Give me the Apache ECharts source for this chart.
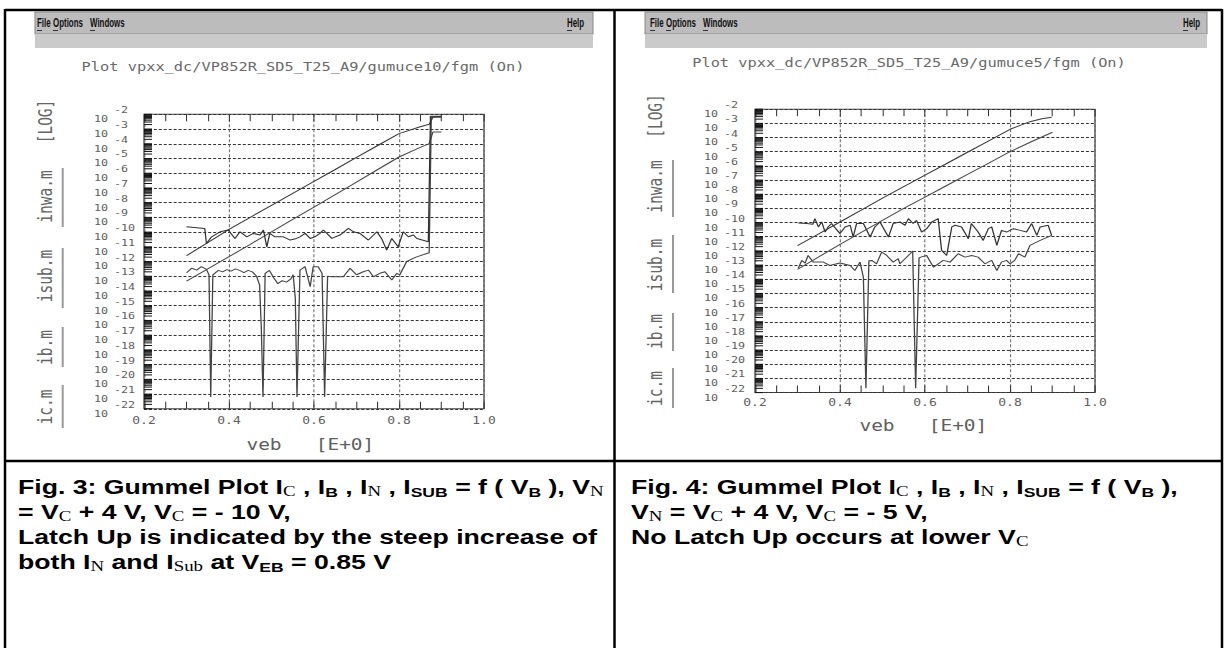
<!DOCTYPE html>
<html><head><meta charset="utf-8">
<script src="https://cdn.jsdelivr.net/npm/echarts@6/dist/echarts.min.js"></script>
<style>
html,body{margin:0;padding:0;background:#fff;overflow:hidden}
#wrap{width:1227px;height:648px;overflow:hidden}
#c{width:944px;height:648px;transform:scaleX(1.29979);transform-origin:0 0}
</style>
</head><body><div id="wrap"><div id="c"></div></div>
<script>
// ---------- tick labels ----------
const xTickLabels = ['0.2', '0.4', '0.6', '0.8', '1.0'];
const yDecades = [-22, -21, -20, -19, -18, -17, -16, -15, -14, -13, -12, -11, -10, -9, -8, -7, -6, -5, -4, -3, -2];
const seriesNames = ['ic.m', 'ib.m', 'isub.m', 'inwa.m'];

// ---------- Fig. 3 (V_C = -10 V): [veb, log10(I)] ----------
const ic3 = [[0.30,-11.6],[0.35,-10.72],[0.40,-9.82],[0.45,-9.0],[0.50,-8.18],[0.55,-7.37],[0.60,-6.56],[0.65,-5.75],[0.70,-4.93],[0.75,-4.12],[0.80,-3.31],[0.85,-2.85],[0.871,-2.68],[0.88,-2.18],[0.89,-2.15],[0.90,-2.15]];
const ib3 = [[0.30,-13.33],[0.35,-12.5],[0.40,-11.67],[0.45,-10.83],[0.50,-9.98],[0.55,-9.13],[0.60,-8.3],[0.65,-7.45],[0.70,-6.6],[0.75,-5.75],[0.80,-4.9],[0.85,-4.25],[0.871,-3.99],[0.88,-3.2],[0.90,-3.2]];
const inwa3 = [[0.300,-9.64],[0.343,-9.75],[0.347,-10.77],[0.359,-10.32],[0.379,-9.98],[0.398,-9.86],[0.414,-10.43],[0.426,-9.98],[0.442,-10.32],[0.457,-10.09],[0.473,-10.2],[0.481,-9.86],[0.489,-11.0],[0.496,-10.09],[0.508,-10.32],[0.528,-10.32],[0.544,-10.54],[0.559,-10.43],[0.567,-10.32],[0.579,-10.09],[0.591,-10.43],[0.602,-10.32],[0.614,-10.09],[0.622,-9.86],[0.642,-10.43],[0.661,-10.2],[0.681,-9.75],[0.693,-9.98],[0.708,-10.09],[0.728,-10.54],[0.748,-9.98],[0.759,-10.43],[0.771,-11.22],[0.783,-10.43],[0.798,-11.0],[0.810,-9.98],[0.822,-10.32],[0.834,-10.2],[0.842,-10.43],[0.869,-10.66],[0.874,-2.14],[0.90,-2.14]];
const isub3 = [[0.300,-12.76],[0.312,-12.46],[0.324,-12.58],[0.335,-12.35],[0.347,-12.53],[0.353,-12.9],[0.357,-21.2],[0.362,-12.9],[0.375,-12.6],[0.385,-12.7],[0.395,-12.55],[0.405,-12.65],[0.415,-12.5],[0.425,-12.6],[0.435,-12.75],[0.445,-12.6],[0.455,-12.7],[0.465,-13.0],[0.472,-13.6],[0.476,-16.5],[0.480,-21.2],[0.485,-12.8],[0.495,-12.6],[0.505,-13.1],[0.515,-13.5],[0.525,-13.3],[0.535,-13.4],[0.545,-13.2],[0.551,-12.9],[0.556,-14.5],[0.560,-21.2],[0.567,-12.58],[0.579,-12.35],[0.591,-13.71],[0.598,-12.35],[0.610,-12.35],[0.619,-12.8],[0.625,-21.2],[0.632,-13.0],[0.642,-13.03],[0.669,-13.03],[0.685,-12.46],[0.700,-12.9],[0.716,-12.69],[0.728,-12.58],[0.740,-13.03],[0.755,-12.8],[0.767,-12.69],[0.783,-13.25],[0.795,-12.8],[0.802,-12.9],[0.818,-12.0],[0.840,-11.7],[0.871,-11.4],[0.876,-2.2],[0.90,-2.2]];

// ---------- Fig. 4 (V_C = -5 V) ----------
const ic4 = [[0.30,-11.63],[0.35,-10.8],[0.40,-9.96],[0.45,-9.12],[0.50,-8.28],[0.55,-7.46],[0.60,-6.65],[0.65,-5.85],[0.70,-5.04],[0.75,-4.23],[0.80,-3.42],[0.847,-2.88],[0.875,-2.68],[0.898,-2.57]];
const ib4 = [[0.30,-13.3],[0.35,-12.42],[0.40,-11.54],[0.45,-10.69],[0.50,-9.84],[0.55,-9.0],[0.60,-8.2],[0.65,-7.4],[0.70,-6.6],[0.75,-5.8],[0.80,-5.0],[0.85,-4.3],[0.90,-3.63]];
const inwa4 = [[0.302,-10.03],[0.322,-10.07],[0.336,-10.12],[0.341,-9.72],[0.349,-10.31],[0.357,-9.96],[0.365,-10.67],[0.372,-10.31],[0.380,-10.07],[0.400,-10.78],[0.412,-10.31],[0.424,-10.19],[0.431,-11.02],[0.439,-10.07],[0.455,-10.07],[0.471,-11.02],[0.482,-10.31],[0.494,-9.96],[0.514,-11.02],[0.525,-10.07],[0.541,-9.96],[0.553,-10.19],[0.561,-9.72],[0.572,-10.07],[0.580,-9.84],[0.592,-10.67],[0.604,-10.43],[0.616,-9.96],[0.631,-9.72],[0.639,-11.96],[0.651,-12.32],[0.663,-10.31],[0.671,-10.19],[0.686,-10.31],[0.702,-11.14],[0.709,-10.07],[0.725,-10.67],[0.737,-11.26],[0.749,-10.43],[0.757,-10.31],[0.769,-11.61],[0.780,-10.55],[0.792,-10.67],[0.808,-10.43],[0.824,-10.55],[0.839,-10.67],[0.851,-10.07],[0.863,-10.9],[0.871,-10.31],[0.890,-10.19],[0.898,-10.9]];
const isub4 = [[0.302,-13.22],[0.310,-12.67],[0.318,-12.86],[0.325,-12.32],[0.337,-12.79],[0.361,-12.79],[0.376,-13.03],[0.400,-12.86],[0.424,-13.03],[0.435,-13.38],[0.447,-12.79],[0.455,-13.86],[0.461,-21.7],[0.468,-12.7],[0.475,-12.67],[0.486,-12.91],[0.498,-12.08],[0.510,-12.32],[0.525,-12.79],[0.537,-12.55],[0.541,-12.91],[0.553,-12.55],[0.565,-12.2],[0.571,-12.01],[0.578,-21.7],[0.586,-12.5],[0.590,-12.44],[0.604,-12.32],[0.620,-13.15],[0.631,-12.91],[0.643,-12.67],[0.659,-12.79],[0.678,-12.2],[0.694,-12.44],[0.710,-12.32],[0.725,-12.44],[0.741,-12.91],[0.757,-12.67],[0.769,-13.38],[0.780,-12.79],[0.792,-12.67],[0.800,-12.91],[0.811,-12.67],[0.820,-12.2],[0.835,-12.44],[0.847,-11.61],[0.871,-11.26],[0.898,-10.9]];

// The reference picture is horizontally stretched; the chart is laid out at 944 px
// and stretched by the CSS transform above. X(v) converts a picture x to chart x.
const S = 1227 / 944;
const X = v => v / S;

const panels = [
  {left:X(144), top:114.3, width:X(340), height:294.5, yLab10:X(36), yLabExp:X(30), xLabMargin:7,
   data:[ic3, ib3, isub3, inwa3]},
  {left:X(755), top:109.2, width:X(340), height:283.4, yLab10:X(37), yLabExp:X(31), xLabMargin:5,
   data:[ic4, ib4, isub4, inwa4]}
];
const curveColors = ['#3a3a3a', '#4a4a4a', '#444444', '#333333'];
const MONO = '"DejaVu Sans Mono", "Liberation Mono", monospace';
const LBL = '#606060';

// minor-tick ruler along the logarithmic current axis (axis decoration)
const ruler = [];
for (let i = 0; i < yDecades.length - 1; i++) {
  for (let k = 1; k <= 9; k++) ruler.push([0.2, yDecades[i] + Math.log10(k)]);
}
ruler.push([0.2, yDecades[yDecades.length - 1]]);

const grids = [], xAxes = [], yAxes = [], series = [];
panels.forEach((p, g) => {
  grids.push({left:p.left, top:p.top, width:p.width, height:p.height, show:true,
    borderColor:'#444', borderWidth:1, backgroundColor:'transparent'});
  const xBase = {type:'value', gridIndex:g, min:0.2, max:1.0, interval:0.2,
    axisLine:{show:false},
    axisTick:{show:true, inside:true, length:7, lineStyle:{color:'#333', width:0.8}},
    minorTick:{show:true, splitNumber:4, length:7, lineStyle:{color:'#333', width:0.8}}};
  xAxes.push(Object.assign({}, xBase, {position:'bottom',
    splitLine:{show:true, lineStyle:{color:'#666', type:[3,2], width:0.8}},
    axisLabel:{show:true, margin:p.xLabMargin, fontFamily:MONO, fontSize:10, color:LBL,
      formatter:(v, i) => xTickLabels[i]}}));
  xAxes.push(Object.assign({}, xBase, {position:'top', splitLine:{show:false}, axisLabel:{show:false}}));
  const yBase = {type:'value', gridIndex:g, min:yDecades[0], max:yDecades[yDecades.length-1], interval:1,
    position:'left', axisLine:{show:false}, axisTick:{show:false}};
  yAxes.push(Object.assign({}, yBase, {
    splitLine:{show:true, lineStyle:{color:'#333', type:[2.3,1.5], width:1}},
    axisLabel:{show:true, margin:p.yLab10, align:'right', verticalAlign:'top', fontFamily:MONO, fontSize:9, color:LBL,
      formatter:() => '10'}}));
  yAxes.push(Object.assign({}, yBase, {splitLine:{show:false},
    axisLabel:{show:true, margin:p.yLabExp, align:'left', verticalAlign:'bottom', fontFamily:MONO, fontSize:9, color:LBL,
      formatter:v => String(v)}}));
  p.data.forEach((d, si) => {
    series.push({type:'line', name:seriesNames[si], xAxisIndex:2*g, yAxisIndex:2*g, data:d,
      symbol:'none', showSymbol:false, silent:true, animation:false,
      lineStyle:{color:curveColors[si], width:1}, z:3});
  });
  series.push({type:'custom', xAxisIndex:2*g, yAxisIndex:2*g, data:ruler, silent:true, animation:false,
    encode:{x:0, y:1}, z:4,
    renderItem:(params, api) => {
      const pt = api.coord([api.value(0), api.value(1)]);
      return {type:'line', shape:{x1:pt[0], y1:pt[1], x2:pt[0] + X(8), y2:pt[1]},
        style:{stroke:'#111', lineWidth:1}};
    }});
});

// ---------- page decorations ----------
const SANS = '"Liberation Sans", Arial, sans-serif';
const SERIF = '"Liberation Serif", "Times New Roman", serif';
const rich = {
  m:{fontFamily:SANS, fontWeight:'bold', fontSize:20.5, lineHeight:25, fill:'#000'},
  s:{fontFamily:SANS, fontWeight:'bold', fontSize:13.5, lineHeight:12, verticalAlign:'bottom', fill:'#000'},
  t:{fontFamily:SERIF, fontWeight:'normal', fontSize:14.5, lineHeight:12, verticalAlign:'bottom', fill:'#000'}
};
const captionA = [
  '{m|Fig. 3: Gummel Plot I}{t|C}{m| , I}{s|B}{m| , I}{t|N}{m| , I}{s|SUB}{m| = f ( V}{s|B}{m| ), V}{t|N}',
  '{m|= V}{t|C}{m| + 4 V, V}{t|C}{m| = - 10 V,}',
  '{m|Latch Up is indicated by the steep increase of}',
  '{m|both I}{t|N}{m| and I}{t|Sub}{m| at V}{s|EB}{m| = 0.85 V}'
];
const captionB = [
  '{m|Fig. 4: Gummel Plot I}{t|C}{m| , I}{s|B}{m| , I}{t|N}{m| , I}{s|SUB}{m| = f ( V}{s|B}{m| ),}',
  '{m|V}{t|N}{m| = V}{t|C}{m| + 4 V, V}{t|C}{m| = - 5 V,}',
  '{m|No Latch Up occurs at lower V}{t|C}'
];
const graphic = [];
// table rules
[[5,10,1222,10,2.5],[5,461,1222,461,2.5]].forEach(l => {
  graphic.push({type:'line', silent:true, shape:{x1:X(l[0]), y1:l[1], x2:X(l[2]), y2:l[3]}, style:{stroke:'#000', lineWidth:l[4]}});
});
[5, 614.5, 1222].forEach(x => {
  graphic.push({type:'line', silent:true, shape:{x1:X(x), y1:9, x2:X(x), y2:648}, style:{stroke:'#000', lineWidth:X(2.5)}});
});
function windowBar(x0, x1, items, helpX, titleText, titleX, titleY) {
  graphic.push({type:'rect', silent:true, shape:{x:X(x0), y:12, width:X(x1 - x0), height:22}, style:{fill:'#bcbcbc', stroke:'#8a8a8a', lineWidth:0.8}});
  graphic.push({type:'rect', silent:true, shape:{x:X(x0), y:34, width:X(x1 - x0), height:14}, style:{fill:'#cacaca'}});
  const f = 'bold 12px ' + SANS;
  items.concat([['Help', helpX]]).forEach(m => {
    graphic.push({type:'text', silent:true, x:X(m[1]), y:22.5, scaleX:0.66 / S,
      style:{text:m[0], font:f, fill:'#111', align:'left', verticalAlign:'middle'}});
    graphic.push({type:'line', silent:true, shape:{x1:X(m[1]), y1:30.5, x2:X(m[1] + 5), y2:30.5}, style:{stroke:'#333', lineWidth:1}});
  });
  graphic.push({type:'text', silent:true, x:X(titleX), y:titleY,
    style:{text:titleText, font:'11.8px ' + MONO, fill:'#6a6a6a', align:'center', verticalAlign:'middle'}});
}
windowBar(35, 593, [['File', 37], ['Options', 53], ['Windows', 90]], 567,
  'Plot vpxx_dc/VP852R_SD5_T25_A9/gumuce10/fgm (On)', 303, 67);
windowBar(645, 1207, [['File', 650], ['Options', 666], ['Windows', 703]], 1183,
  'Plot vpxx_dc/VP852R_SD5_T25_A9/gumuce5/fgm (On)', 909, 63);

function sideLabels(tx, lx, items) {
  items.forEach(it => {
    graphic.push({type:'text', silent:true, x:X(tx), y:it[1], rotation:Math.PI / 2,
      style:{text:it[0], font:'14.5px ' + MONO, fill:'#666', align:'center', verticalAlign:'middle'}});
    if (it[2]) graphic.push({type:'line', silent:true, shape:{x1:X(lx), y1:it[2], x2:X(lx), y2:it[3]}, style:{stroke:'#999', lineWidth:X(2)}});
  });
}
sideLabels(45, 62.7, [['[LOG]', 121.5], ['inwa.m', 196.5, 168, 227], ['isub.m', 276, 248, 308], ['ib.m', 347.5, 327, 367], ['ic.m', 407, 385, 428]]);
sideLabels(655, 673, [['[LOG]', 116], ['inwa.m', 186.5, 160, 217], ['isub.m', 265, 235, 293], ['ib.m', 331.5, 313, 351], ['ic.m', 388.5, 368, 408]]);

[['veb', 264, 445], ['[E+0]', 345, 445], ['veb', 877, 426], ['[E+0]', 958, 426]].forEach(t => {
  graphic.push({type:'text', silent:true, x:X(t[1]), y:t[2],
    style:{text:t[0], font:'15px ' + MONO, fill:LBL, align:'center', verticalAlign:'middle'}});
});

captionA.forEach((line, i) => {
  graphic.push({type:'text', silent:true, x:X(18), y:474 + i * 25, style:{text:line, rich:rich, align:'left', verticalAlign:'top'}});
});
captionB.forEach((line, i) => {
  graphic.push({type:'text', silent:true, x:X(631), y:474 + i * 25, style:{text:line, rich:rich, align:'left', verticalAlign:'top'}});
});

const chart = echarts.init(document.getElementById('c'), null, {renderer:'svg', width:944, height:648});
chart.setOption({
  animation:false,
  backgroundColor:'#ffffff',
  grid:grids, xAxis:xAxes, yAxis:yAxes, series:series, graphic:graphic
});
</script></body></html>
